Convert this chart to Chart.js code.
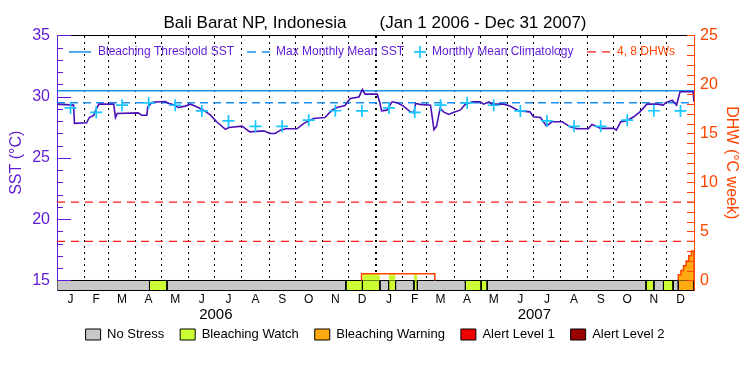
<!DOCTYPE html>
<html><head><meta charset="utf-8">
<script src="https://cdn.jsdelivr.net/npm/chart.js@4.4.1/dist/chart.umd.min.js"></script>
<style>html,body{margin:0;padding:0;background:#fff;}</style>
</head><body>
<canvas id="c" width="750" height="375"></canvas>
<script>
// ---------------- data ----------------
const monthLetters = ['J','F','M','A','M','J','J','A','S','O','N','D','J','F','M','A','M','J','J','A','S','O','N','D'];
const monthLengths = [31,28,31,30,31,30,31,31,30,31,30,31,31,28,31,30,31,30,31,31,30,31,30,31];
const yearLabels = ['2006','2007'];
const yearMidDays = [182, 547];
const sstTicks = [15,16,17,18,19,20,21,22,23,24,25,26,27,28,29,30,31,32,33,34,35];
const dhwTicks = [0,1,2,3,4,5,6,7,8,9,10,11,12,13,14,15,16,17,18,19,20,21,22,23,24,25];

// daily SST (day index from Jan 1 2006) and value in degC
const sstDays   = [0,19,20,34,37,42,44,48,65,67,69,93,97,103,104,109,124,128,132,139,147,153,160,168,176,183,193,197,212,221,237,244,250,256,262,275,283,294,307,315,321,330,336,346,350,353,367,370,372,378,384,390,397,405,409,411,416,428,430,432,435,439,443,449,454,462,468,476,485,489,495,498,512,519,529,542,546,554,561,567,579,588,596,609,613,619,623,638,641,646,653,661,668,676,688,695,697,705,710,714,729,730];
const sstValues = [29.39,29.31,27.82,27.87,28.3,28.47,28.85,29.39,29.39,28.3,28.63,28.68,28.49,28.49,29.17,29.55,29.61,29.45,29.39,29.12,29.23,29.39,29.17,28.9,28.49,27.95,27.33,27.49,27.6,27.13,27.21,27.0,27.0,27.27,27.38,27.38,27.82,28.22,28.3,28.9,29.12,29.28,29.85,29.98,30.59,30.21,30.21,29.5,28.84,28.9,29.58,29.5,29.23,28.76,28.68,29.45,29.37,29.31,28.36,27.3,27.6,29.04,28.76,28.55,28.71,28.9,29.39,29.58,29.58,29.39,29.58,29.39,29.39,29.23,28.85,28.76,28.36,28.3,27.6,27.95,27.95,27.54,27.38,27.38,27.73,27.54,27.41,27.41,27.27,27.95,28.03,28.36,28.76,29.39,29.39,29.31,29.5,29.72,29.31,30.4,30.4,29.58];

// monthly mean climatology (Jan..Dec)
const climValues = [29.08,28.72,29.31,29.5,29.3,28.84,28.02,27.58,27.58,28.08,28.85,28.84];
const bleachingThreshold = 30.48;
const maxMonthlyMean = 29.5;
const dhwLevels = [4, 8];

// degree heating weeks (step intervals, days)
const dhwStart = [349,712,715,718,721,724,727];
const dhwEnd   = [433,715,718,721,724,727,730];
const dhwValue = [0.68,0.58,1.02,1.5,1.98,2.52,3.0];

// stress level segments (0 none,1 watch,2 warning,3 alert1,4 alert2)
const stressStart = [0,106,126,331,350,370,380,388,409,413,468,486,493,675,684,695,706,712];
const stressEnd   = [106,126,331,350,370,380,388,409,413,468,486,493,675,684,695,706,712,730];
const stressLevel = [0,1,0,1,1,0,1,0,1,0,1,1,0,1,0,1,0,2];
const stressNames = ['No Stress','Bleaching Watch','Bleaching Warning','Alert Level 1','Alert Level 2'];

// ---------------- styles ----------------
const stressColors = ['#c8c8c8','#ccff33','#ffaa11','#ee0000','#990000'];
const PURPLE = '#5f1ad6', LINE = '#4a10b6', BLUE = '#1a90f0', CYAN = '#16c6ff', ORANGE = '#ff4400', RED = '#ff1a1a';
const FONT = "'Liberation Sans', Arial, sans-serif";
Chart.defaults.font.family = FONT;

const DAYS = 730;
const Y_MIN = 14.216, Y_MAX = 35;
const Y2_MIN = (Y_MIN - 15) * 1.25, Y2_MAX = 25;

const monthBounds = [0];
monthLengths.forEach(l => monthBounds.push(monthBounds[monthBounds.length - 1] + l));
const monthMids = monthLengths.map((l, i) => monthBounds[i] + l / 2);

const datasets = [];
// stress bar
stressStart.forEach((s, i) => {
  const e = stressEnd[i];
  datasets.push({
    type: 'line', data: [{x:s,y:Y2_MIN},{x:s,y:0},{x:e,y:0},{x:e,y:Y2_MIN}],
    yAxisID: 'y2', borderColor: '#000', borderWidth: 1,
    backgroundColor: stressColors[stressLevel[i]], fill: {value: Y2_MIN},
    pointRadius: 0, order: 30
  });
  // DHW area coloured by stress level
  if (stressLevel[i] > 0) {
    const pts = [];
    dhwStart.forEach((a, k) => {
      const lo = Math.max(a, s), hi = Math.min(dhwEnd[k], e);
      if (hi > lo) {
        if (!pts.length) pts.push({x: lo, y: 0});
        pts.push({x: lo, y: dhwValue[k]}, {x: hi, y: dhwValue[k]});
      }
    });
    if (pts.length) {
      pts.push({x: pts[pts.length - 1].x, y: 0});
      datasets.push({type: 'line', data: pts, yAxisID: 'y2', borderWidth: 0,
        backgroundColor: stressColors[stressLevel[i]], fill: {value: 0}, pointRadius: 0, order: 25});
    }
  }
});
// DHW outline
const dhwPts = [];
dhwStart.forEach((a, k) => {
  if (k === 0 || dhwEnd[k - 1] !== a) {
    if (k > 0) dhwPts.push({x: (dhwEnd[k - 1] + a) / 2, y: null});
    dhwPts.push({x: a, y: 0});
  }
  dhwPts.push({x: a, y: dhwValue[k]}, {x: dhwEnd[k], y: dhwValue[k]});
  if (k === dhwStart.length - 1 || dhwStart[k + 1] !== dhwEnd[k]) dhwPts.push({x: dhwEnd[k], y: 0});
});
datasets.push({type: 'line', data: dhwPts, yAxisID: 'y2', borderColor: ORANGE, borderWidth: 1.5,
  fill: false, pointRadius: 0, spanGaps: false, order: 1});
// DHW 4, 8 lines
dhwLevels.forEach(v => datasets.push({type: 'line', data: [{x:0,y:v},{x:DAYS,y:v}], yAxisID: 'y2',
  borderColor: RED, borderWidth: 1.2, borderDash: [8,6], pointRadius: 0, fill: false, order: 15}));
// threshold & MMM
datasets.push({type: 'line', data: [{x:0,y:bleachingThreshold},{x:DAYS,y:bleachingThreshold}], yAxisID: 'y',
  borderColor: BLUE, borderWidth: 1.5, pointRadius: 0, fill: false, order: 12});
datasets.push({type: 'line', data: [{x:0,y:maxMonthlyMean},{x:DAYS,y:maxMonthlyMean}], yAxisID: 'y',
  borderColor: BLUE, borderWidth: 1.5, borderDash: [8,5], pointRadius: 0, fill: false, order: 11});
// SST
datasets.push({type: 'line', data: sstDays.map((d, i) => ({x: d, y: sstValues[i]})), yAxisID: 'y',
  borderColor: LINE, borderWidth: 1.6, pointRadius: 0, fill: false, tension: 0, order: 5});
// climatology
datasets.push({type: 'line', data: monthMids.map((m, i) => ({x: m, y: climValues[i % 12]})), yAxisID: 'y',
  showLine: false, pointStyle: 'cross', pointRadius: 6, borderColor: CYAN, backgroundColor: CYAN,
  pointBorderWidth: 1.7, order: 3});

// inward tick marks on both value axes
const inwardTicks = {
  id: 'inwardTicks',
  afterDraw(chart) {
    const {ctx, chartArea: a, scales: {y, y2}} = chart;
    ctx.save();
    ctx.lineWidth = 1;
    ctx.strokeStyle = PURPLE;
    y.ticks.forEach(t => {
      const py = Math.round(y.getPixelForValue(t.value)) + 0.5;
      const len = t.value % 5 === 0 ? 14 : 6;
      ctx.beginPath(); ctx.moveTo(a.left, py); ctx.lineTo(a.left + len, py); ctx.stroke();
    });
    ctx.strokeStyle = ORANGE;
    y2.ticks.forEach(t => {
      const py = Math.round(y2.getPixelForValue(t.value)) + 0.5;
      ctx.beginPath(); ctx.moveTo(a.right, py); ctx.lineTo(a.right - 7, py); ctx.stroke();
    });
    ctx.restore();
  }
};

// legend for the line series, drawn inside the plot
const topLegend = {
  id: 'topLegend',
  afterDatasetsDraw(chart) {
    const {ctx, chartArea: a} = chart;
    const yy = a.top + 16.5, x0 = a.left;
    ctx.save();
    ctx.font = '12px ' + FONT;
    ctx.textBaseline = 'middle';
    ctx.lineWidth = 1.5;
    ctx.strokeStyle = BLUE;
    ctx.beginPath(); ctx.moveTo(x0 + 12, yy); ctx.lineTo(x0 + 34, yy); ctx.stroke();
    ctx.beginPath(); ctx.moveTo(x0 + 190, yy); ctx.lineTo(x0 + 199, yy); ctx.moveTo(x0 + 205, yy); ctx.lineTo(x0 + 213, yy); ctx.stroke();
    ctx.strokeStyle = CYAN; ctx.lineWidth = 1.7;
    ctx.beginPath(); ctx.moveTo(x0 + 357, yy); ctx.lineTo(x0 + 369, yy); ctx.moveTo(x0 + 363, yy - 6); ctx.lineTo(x0 + 363, yy + 6); ctx.stroke();
    ctx.strokeStyle = RED; ctx.lineWidth = 1.2;
    ctx.beginPath(); ctx.moveTo(x0 + 530, yy); ctx.lineTo(x0 + 539, yy); ctx.moveTo(x0 + 545, yy); ctx.lineTo(x0 + 553, yy); ctx.stroke();
    ctx.fillStyle = PURPLE;
    ctx.fillText('Bleaching Threshold SST', x0 + 41, yy);
    ctx.fillText('Max Monthly Mean SST', x0 + 219, yy);
    ctx.fillText('Monthly Mean Climatology', x0 + 375, yy);
    ctx.fillStyle = ORANGE;
    ctx.fillText('4, 8 DHWs', x0 + 560, yy);
    ctx.restore();
  }
};

new Chart(document.getElementById('c'), {
  data: {datasets},
  plugins: [inwardTicks, topLegend],
  options: {
    responsive: false, animation: false, devicePixelRatio: 1, events: [],
    layout: {autoPadding: false, padding: {left: 0, right: 0, top: 0, bottom: 24}},
    plugins: {
      tooltip: {enabled: false},
      title: {display: true, text: 'Bali Barat NP, Indonesia       (Jan 1 2006 - Dec 31 2007)',
        color: '#000', font: {size: 17, weight: 'normal', family: FONT}, padding: {top: 13, bottom: 2}},
      legend: {
        position: 'bottom', onClick: null,
        labels: {
          boxWidth: 15, boxHeight: 11, padding: 16, color: '#000', font: {size: 13, family: FONT},
          generateLabels: () => stressNames.map((n, i) => ({text: n, fillStyle: stressColors[i], strokeStyle: '#000',
            lineWidth: 1, hidden: false, fontColor: '#000'}))
        }
      }
    },
    scales: {
      x: {
        type: 'linear', position: 'bottom', min: 0, max: DAYS,
        afterBuildTicks: s => { s.ticks = monthMids.map(v => ({value: v})); },
        afterFit: s => { s.height = 13; },
        grid: {display: false, drawTicks: false},
        border: {display: true, color: '#000', width: 1},
        ticks: {autoSkip: false, maxRotation: 0, mirror: true, padding: -16.4, color: '#000', font: {size: 12},
          callback: (v, i) => monthLetters[i]}
      },
      xYear: {
        type: 'linear', position: 'bottom', min: 0, max: DAYS,
        afterBuildTicks: s => { s.ticks = yearMidDays.map(v => ({value: v})); },
        afterFit: s => { s.height = 8.9; },
        grid: {display: false, drawTicks: false}, border: {display: false},
        ticks: {autoSkip: false, maxRotation: 0, mirror: true, padding: -20.7, color: '#000', font: {size: 15},
          callback: (v, i) => yearLabels[i]}
      },
      xGrid: {
        type: 'linear', position: 'top', min: 0, max: DAYS,
        afterBuildTicks: s => { s.ticks = monthBounds.slice(1, -1).map(v => ({value: v})); },
        afterFit: s => { s.height = 0; },
        grid: {display: true, drawTicks: false, color: '#000',
          lineWidth: c => (c.tick && c.tick.value === 365) ? 2 : 1},
        border: {display: true, color: '#000', width: 1, dash: [2, 4]},
        ticks: {display: false}
      },
      y: {
        type: 'linear', position: 'left', min: Y_MIN, max: Y_MAX,
        afterBuildTicks: s => { s.ticks = sstTicks.map(v => ({value: v})); },
        afterFit: s => { s.width = 57; },
        grid: {display: false, drawTicks: false},
        border: {display: true, color: PURPLE, width: 1},
        ticks: {padding: 7, color: PURPLE, font: {size: 16}, autoSkip: false,
          callback: v => (v % 5 === 0 ? String(v) : '')},
        title: {display: true, text: 'SST (°C)', color: PURPLE, font: {size: 16}, padding: {top: 7, bottom: 0}}
      },
      y2: {
        type: 'linear', position: 'right', min: Y2_MIN, max: Y2_MAX,
        afterBuildTicks: s => { s.ticks = dhwTicks.map(v => ({value: v})); },
        afterFit: s => { s.width = 56; },
        grid: {display: false, drawTicks: false},
        border: {display: true, color: ORANGE, width: 1},
        ticks: {padding: 6, color: ORANGE, font: {size: 16}, autoSkip: false,
          callback: v => (v % 5 === 0 ? String(v) : '')},
        title: {display: true, text: 'DHW (°C week)', color: ORANGE, font: {size: 16}, padding: {top: 9, bottom: 0}}
      }
    }
  }
});
</script>
</body></html>
